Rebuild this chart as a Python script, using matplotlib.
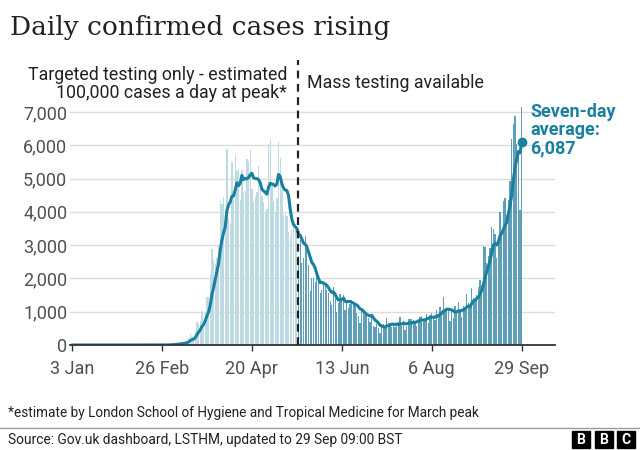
#!/usr/bin/env python3
"""Daily confirmed UK cases with seven-day average, BBC style."""

import numpy as np
import pandas as pd
import matplotlib
matplotlib.use('Agg')
import matplotlib.pyplot as plt
from matplotlib.patches import Rectangle

# Daily confirmed cases, 3 Jan - 29 Sep 2020 (one list per month)
cases_jan = [0, 0, 0, 0, 0, 0, 0, 0, 0, 0, 0, 0, 0, 0, 0, 0, 0, 0, 0, 0,
             0, 0, 0, 0, 0, 0, 0, 0, 2]
cases_feb = [0, 0, 0, 0, 0, 1, 0, 0, 0, 4, 1, 0, 1, 0, 0, 0, 0, 0, 0, 0,
             0, 0, 0, 0, 4, 0, 2, 6, 3]
cases_mar = [12, 4, 11, 34, 30, 48, 43, 67, 48, 61, 74, 134, 208, 342, 251,
             152, 407, 676, 643, 714, 1035, 665, 967, 1427, 1452, 2129, 2885,
             2546, 2433, 2619, 3009]
cases_apr = [4324, 4244, 4450, 3735, 5903, 3802, 3634, 5491, 4344, 5706,
             5234, 5288, 4342, 5252, 4603, 4617, 5599, 5525, 5850, 4676,
             4301, 4451, 4583, 5386, 4913, 4463, 4309, 3996, 4076, 6032]
cases_may = [6201, 4806, 4339, 3985, 4406, 6111, 5614, 4649, 3896, 3923,
             3877, 3403, 3242, 3446, 3560, 3450, 3534, 2684, 3142, 2472,
             2615, 3287, 2959, 2409, 1625, 2004, 2013, 1887, 2095, 1936, 1570]
cases_jun = [1653, 1871, 1805, 1650, 1557, 1326, 1205, 1741, 1387, 1003,
             1266, 1541, 1425, 1514, 1056, 1279, 1115, 1218, 1346, 1295,
             1221, 958, 874, 653, 1118, 1006, 890, 901, 815, 689]
cases_jul = [829, 576, 544, 624, 516, 352, 581, 630, 512, 820, 650, 651, 530,
             598, 538, 642, 687, 827, 580, 725, 445, 560, 769, 768, 767, 744,
             685, 581, 763, 846, 880]
cases_aug = [771, 744, 938, 670, 892, 950, 871, 758, 1062, 816, 1148, 1009,
             1441, 1012, 1040, 1077, 713, 1089, 812, 1182, 1033, 1288, 1041,
             853, 1184, 1048, 1522, 1276, 1108, 1715, 1406]
cases_sep = [1295, 1508, 1735, 1940, 1813, 2988, 2948, 2460, 2659, 2919,
             3539, 3497, 3330, 2621, 3105, 3991, 3395, 4322, 4422, 3899,
             4368, 4926, 6178, 6634, 6874, 6042, 5693, 4044, 7143]

start_date = '2020-01-03'
mass_testing_date = '2020-05-18'
tick_labels = ['3 Jan', '26 Feb', '20 Apr', '13 Jun', '6 Aug', '29 Sep']
tick_dates = ['2020-01-03', '2020-02-26', '2020-04-20', '2020-06-13',
              '2020-08-06', '2020-09-29']
y_ticks = [0, 1000, 2000, 3000, 4000, 5000, 6000, 7000]

cases = (cases_jan + cases_feb + cases_mar + cases_apr + cases_may + cases_jun
         + cases_jul + cases_aug + cases_sep)
dates = pd.date_range(start_date, periods=len(cases), freq='D')
series = pd.Series(cases, index=dates)
avg = series.rolling(7, min_periods=1).mean()

t0 = pd.Timestamp(start_date)
days = np.array([(d - t0).days for d in dates])
split = (pd.Timestamp(mass_testing_date) - t0).days

LIGHT = '#bedbe4'
DARK = '#5f9fb7'
TEAL = '#1a809f'
TEXT = '#222222'
GREY_TEXT = '#505050'

plt.rcParams['font.family'] = ['Roboto', 'DejaVu Sans']

W, H = 640, 450
fig = plt.figure(figsize=(W / 100, H / 100), dpi=100)
fig.patch.set_facecolor('white')


def px(x, y):
    return x / W, 1 - y / H


# Axes placed to match reference pixel layout
ax = fig.add_axes([70 / W, (H - 345) / H, (555 - 70) / W, (345 - 105) / H])

colors = [LIGHT if d < split else DARK for d in days]
ax.bar(days, series.values, width=0.78, color=colors, linewidth=0, zorder=2)
ax.plot(days, avg.values, color=TEAL, linewidth=2.2, zorder=3,
        solid_capstyle='round', solid_joinstyle='round')
ax.plot(days[-1], avg.values[-1], 'o', color=TEAL, markersize=6, zorder=4)

ax.set_xlim(-1.2, 290)
ax.set_ylim(0, 7210)

ax.set_yticks(y_ticks)
ax.set_yticklabels(['{:,}'.format(v) for v in y_ticks])
ax.set_xticks([(pd.Timestamp(d) - t0).days for d in tick_dates])
ax.set_xticklabels(tick_labels)

ax.grid(axis='y', color='#dcdcdc', linewidth=1, zorder=0)
ax.set_axisbelow(True)
for side in ['top', 'right', 'left']:
    ax.spines[side].set_visible(False)
ax.spines['bottom'].set_color('#333333')
ax.spines['bottom'].set_linewidth(1.3)
ax.spines['bottom'].set_zorder(5)
ax.tick_params(axis='y', length=0, pad=2, labelsize=13, labelcolor=GREY_TEXT)
ax.tick_params(axis='x', length=4, width=1, color='#333333', pad=7,
               labelsize=13, labelcolor=GREY_TEXT)

# Dashed divider for mass testing, running up into the header area
x_div = split - 0.5
ax.plot([x_div, x_div], [0, 8550], color='#222222', linewidth=1.6,
        linestyle=(0, (3.5, 2.5)), clip_on=False, zorder=6)

fig.text(*px(287, 75), 'Targeted testing only - estimated', ha='right',
         va='center', fontsize=12.8, color=TEXT)
fig.text(*px(287, 93), '100,000 cases a day at peak*', ha='right',
         va='center', fontsize=12.8, color=TEXT)
fig.text(*px(307, 83), 'Mass testing available', ha='left',
         va='center', fontsize=12.8, color=TEXT)

# End label for the seven-day average
label = ['Seven-day', 'average:', '{:,}'.format(int(round(avg.values[-1])))]
for i, line in enumerate(label):
    fig.text(*px(530, 112 + i * 18), line, ha='left', va='center',
             fontsize=13, fontweight='bold', color=TEAL)

# Title
fig.text(*px(10, 27), 'Daily confirmed cases rising', ha='left', va='center',
         fontsize=19, family='DejaVu Serif', color=TEXT)

# Footer
fig.text(*px(8, 413), '*estimate by London School of Hygiene and Tropical '
         'Medicine for March peak', ha='left', va='center', fontsize=9.8,
         color=TEXT)
fig.add_artist(plt.Line2D([0, 1], [1 - 428 / H, 1 - 428 / H],
                          color='#9a9a9a', linewidth=1))
fig.text(*px(8, 440), 'Source: Gov.uk dashboard, LSTHM, updated to 29 Sep '
         '09:00 BST', ha='left', va='center', fontsize=9.9, color=TEXT)

# BBC blocks
for i, letter in enumerate('BBC'):
    x0 = 572 + i * 22.5
    fig.add_artist(Rectangle(px(x0, 448), 18 / W, 17 / H, color='black'))
    fig.text(*px(x0 + 9, 439.5), letter, ha='center', va='center',
             fontsize=10, fontweight='bold', color='white')

fig.savefig('out.png', dpi=100, facecolor='white')
plt.close(fig)
